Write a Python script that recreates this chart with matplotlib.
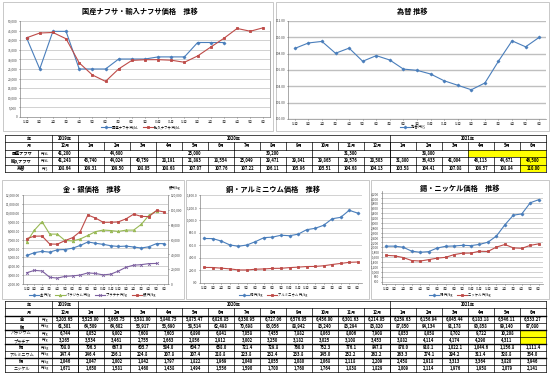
import numpy as np
import matplotlib
matplotlib.use('Agg')
import matplotlib.pyplot as plt
from matplotlib.patches import Rectangle
from matplotlib.ticker import FuncFormatter, MultipleLocator

plt.rcParams['font.family'] = ['Noto Sans CJK JP', 'DejaVu Sans']

nan = np.nan
months = ['12月', '1月', '2月', '3月', '4月', '5月', '6月', '7月', '8月', '9月', '10月', '11月',
          '12月', '1月', '2月', '3月', '4月', '5月', '6月']
years = ['2019年', '2020年', '2021年']
year_spans = [1, 12, 6]

# naphtha (yen/kL) and exchange rate (yen/$)
naphtha_dom = [41200, 25000, 44600, 44600, 25000, 25000, 25000, 30200, 30200, 30200,
               31300, 31300, 31300, 38800, 38800, 38800, nan, nan, nan]
naphtha_dom_table = [41200, 44600, 25000, 30200, 31300, 38800, nan]
naphtha_dom_spans = [1, 3, 3, 3, 3, 3, 3]
naphtha_imp = [41248, 43740, 44024, 40759, 28191, 21893, 18554, 25049, 29471, 29841,
               29865, 29576, 28503, 31800, 36433, 41004, 46113, 44671, 46500]
fx = [108.64, 109.31, 109.50, 108.05, 108.68, 107.07, 107.76, 107.22, 106.11, 105.96,
      105.51, 104.68, 104.13, 103.58, 104.41, 107.08, 109.57, 108.84, 110.00]

# metals
gold = [5203.65, 5525.00, 5665.75, 5581.00, 5840.75, 5875.47, 6026.85, 6330.95, 6727.06, 6576.05,
        6456.00, 6301.63, 6214.05, 6259.63, 6156.94, 6045.44, 6183.18, 6546.11, 6533.27]
silver = [61301, 64509, 64602, 53917, 53690, 58514, 62498, 70698, 93056, 88942,
          83240, 83294, 83820, 87850, 94134, 91178, 90858, 99140, 97080]
palladium = [6744, 8052, 9002, 7608, 7603, 6890, 6841, 7058, 7455, 7882,
             8063, 8006, 7908, 8053, 8058, 8702, 9722, 10208, nan]
platinum = [3265, 3534, 3461, 2755, 2663, 2856, 2912, 3002, 3250, 3182,
            3025, 3108, 3453, 3882, 4114, 4174, 4290, 4311, nan]
copper = [708.0, 706.3, 667.0, 605.7, 584.0, 604.7, 658.0, 721.4, 729.8, 760.0,
          752.3, 776.1, 847.8, 870.0, 918.1, 1022.1, 1044.6, 1156.8, 1111.4]
aluminium = [247.4, 246.4, 236.1, 224.8, 207.8, 207.4, 218.8, 223.8, 232.4, 233.8,
             245.0, 252.2, 262.2, 263.3, 274.1, 294.2, 311.4, 328.8, 334.0]
tin = [2046, 2047, 2002, 1842, 1797, 1822, 1969, 2040, 2055, 2080,
       2068, 2118, 2209, 2458, 2918, 3313, 3364, 3820, 3946]
nickel = [1671, 1650, 1581, 1460, 1438, 1494, 1556, 1590, 1700, 1760,
          1764, 1838, 1829, 2009, 2114, 1976, 1958, 2079, 2141]

BLUE, RED, GREEN, PURPLE = '#4A7EBB', '#BE4B48', '#98B954', '#7D60A0'
YELLOW = '#FFFF00'

W, H = 551, 382
fig = plt.figure(figsize=(W / 100, H / 100), dpi=100)
ov = fig.add_axes([0, 0, 1, 1])
ov.set_xlim(0, W)
ov.set_ylim(H, 0)
ov.axis('off')


def px(x0, y0, x1, y1):
    return [x0 / W, 1 - y1 / H, (x1 - x0) / W, (y1 - y0) / H]


# chart frames
for (x0, y0, x1, y1) in [(3, 2, 273, 131), (276, 2, 549, 131),
                         (2, 180, 184, 299), (186, 180, 369, 299), (371, 180, 549, 299)]:
    ov.add_patch(Rectangle((x0, y0), x1 - x0, y1 - y0, fill=False, ec='#BFBFBF', lw=0.6))

x = np.arange(len(months))


def style(ax, lo, hi, step, fmt, grid_lw=0.5):
    ax.set_facecolor('none')
    ax.set_xlim(-0.5, 18.5)
    ax.set_ylim(lo, hi)
    ax.yaxis.set_major_locator(MultipleLocator(step))
    ax.yaxis.set_major_formatter(FuncFormatter(lambda v, p: fmt(v)))
    ax.set_xticks(x)
    ax.set_xticklabels(months)
    ax.tick_params(labelsize=2.3, length=1, width=0.4, pad=1, colors='#404040')
    ax.grid(axis='y', color='#BFBFBF', lw=grid_lw)
    ax.set_axisbelow(True)
    for s in ['top', 'right']:
        ax.spines[s].set_visible(False)
    for s in ['left', 'bottom']:
        ax.spines[s].set_color('#868686')
        ax.spines[s].set_linewidth(0.5)


def line(ax, y, color, marker, label, ms=1.8):
    return ax.plot(x, y, color=color, lw=0.8, marker=marker, ms=ms, mec=color, mfc=color,
                   mew=0.6, label=label)[0]


def legend(ax, handles, cx, cy):
    ax.legend(handles=handles, loc='center', bbox_to_anchor=(cx / W, 1 - cy / H),
              bbox_transform=fig.transFigure, ncol=len(handles), fontsize=2.4, frameon=False,
              handlelength=3, columnspacing=1.5, handletextpad=0.3, borderpad=0)


def title(cx, cy, text):
    ov.text(cx, cy, text, ha='center', va='center', fontsize=5.2, fontweight='bold')


# chart 1: naphtha
ax1 = fig.add_axes(px(20, 21, 270, 117))
style(ax1, 0, 50000, 5000, lambda v: f'{v:,.0f}')
ax1.spines['right'].set_visible(True)
ax1.spines['right'].set_color('#868686')
ax1.spines['right'].set_linewidth(0.5)
h1 = line(ax1, naphtha_dom, BLUE, 'D', '国産ナフサ 円/kL', ms=1.5)
h2 = line(ax1, naphtha_imp, RED, 's', '輸入ナフサ 円/kL')
legend(ax1, [h1, h2], 140, 127)
title(140, 11, '国産ナフサ・輸入ナフサ価格　推移')

# chart 2: exchange rate
ax2 = fig.add_axes(px(288, 21, 546, 119))
style(ax2, 100, 112, 2, lambda v: f'{v:.2f}', grid_lw=1.0)
h = line(ax2, fx, BLUE, 'D', '為替 円/$', ms=1.5)
legend(ax2, [h], 412, 127)
title(412, 11, '為替 推移')

# chart 3: gold / silver
ax3 = fig.add_axes(px(23, 195, 168, 284))
style(ax3, 2000, 12000, 1000, lambda v: f'{v:,.2f}')
ax3r = ax3.twinx()
ax3r.set_ylim(0, 120000)
ax3r.yaxis.set_major_locator(MultipleLocator(20000))
ax3r.yaxis.set_major_formatter(FuncFormatter(lambda v, p: f'{v:,.0f}'))
ax3r.tick_params(labelsize=2.3, length=1, width=0.4, pad=1, colors='#404040')
for s in ['top', 'left', 'bottom']:
    ax3r.spines[s].set_visible(False)
ax3r.spines['right'].set_color('#868686')
ax3r.spines['right'].set_linewidth(0.5)
g1 = line(ax3, gold, BLUE, 'D', '金 円/g', ms=1.5)
g2 = line(ax3, palladium, GREEN, '^', 'パラジウム 円/g')
g3 = line(ax3, platinum, PURPLE, 'x', 'プラチナ 円/g', ms=2.0)
g4 = line(ax3r, silver, RED, 's', '銀 円/kg')
legend(ax3, [g1, g2, g3, g4], 92, 295)
ov.text(175, 188.5, '銀円/kg', ha='center', va='center', fontsize=2.4)
title(92, 189, '金・銀価格　推移')

# chart 4: copper / aluminium
ax4 = fig.add_axes(px(200, 195, 362, 283))
style(ax4, 0, 1400, 200, lambda v: f'{v:,.1f}')
c1 = line(ax4, copper, BLUE, 'D', '銅 円/kg', ms=1.5)
c2 = line(ax4, aluminium, RED, 's', 'アルミニウム 円/kg')
legend(ax4, [c1, c2], 273, 295)
title(273, 189, '銅・アルミニウム価格　推移')

# chart 5: tin / nickel
ax5 = fig.add_axes(px(382, 191, 543, 284))
style(ax5, 500, 4300, 200, lambda v: f'{v:,.0f}')
n1 = line(ax5, tin, BLUE, 'D', '錫 円/kg', ms=1.5)
n2 = line(ax5, nickel, RED, 's', 'ニッケル 円/kg')
legend(ax5, [n1, n2], 460, 295)
title(460, 188, '錫・ニッケル価格　推移')

# ---------- tables ----------
X0, XU, XD, CW = 5, 38, 52, 26.0
XE = XD + CW * len(months)
FS = 3.0


def col_x(i):
    return XD + CW * i


def hline(y, lw=0.5):
    ov.plot([X0, XE], [y, y], color='black', lw=lw)


def vline(xv, y0, y1, lw=0.5):
    ov.plot([xv, xv], [y0, y1], color='black', lw=lw)


def txt(xc, yc, s, bold=True, fs=FS):
    ov.text(xc, yc, s, ha='center', va='center', fontsize=fs,
            fontweight='bold' if bold else 'normal')


def header(ys):
    # year row
    txt((X0 + XD) / 2, (ys[0] + ys[1]) / 2, '年')
    start = 0
    for yname, span in zip(years, year_spans):
        txt(col_x(start) + CW * span / 2, (ys[0] + ys[1]) / 2, yname)
        start += span
    # month row
    txt((X0 + XD) / 2, (ys[1] + ys[2]) / 2, '月')
    for i, m in enumerate(months):
        txt(col_x(i) + CW / 2, (ys[1] + ys[2]) / 2, m)
    for y in ys:
        hline(y)
    for xv in [X0, XD, XE, col_x(1), col_x(13)]:
        vline(xv, ys[0], ys[-1])
    vline(XU, ys[2], ys[-1])


def data_row(ys, r, label, unit, vals, fmt, label_bold=True):
    y0, y1 = ys[r], ys[r + 1]
    yc = (y0 + y1) / 2
    txt((X0 + XU) / 2, yc, label, bold=label_bold)
    txt((XU + XD) / 2, yc, unit, bold=False, fs=2.4)
    for i, v in enumerate(vals):
        if np.isnan(v):
            ov.add_patch(Rectangle((col_x(i), y0), CW, y1 - y0, color=YELLOW, lw=0, zorder=0))
        else:
            txt(col_x(i) + CW / 2, yc, fmt(v))
        if i > 0:
            vline(col_x(i), y0, y1)


# top table
ty = [134.5, 142, 149.5, 157, 164.5, 172]
header(ty)
for i in range(1, 19):
    vline(col_x(i), ty[1], ty[2])
start = 0
for v, span in zip(naphtha_dom_table, naphtha_dom_spans):
    if np.isnan(v):
        ov.add_patch(Rectangle((col_x(start), ty[2]), CW * span, ty[3] - ty[2],
                               color=YELLOW, lw=0, zorder=0))
    else:
        txt(col_x(start) + CW * span / 2, (ty[2] + ty[3]) / 2, f'{v:,.0f}')
    if start > 0:
        vline(col_x(start), ty[2], ty[3])
    start += span
txt((X0 + XU) / 2, (ty[2] + ty[3]) / 2, '国産ナフサ')
txt((XU + XD) / 2, (ty[2] + ty[3]) / 2, '円/kL', bold=False, fs=2.4)
fx_table = fx[:-1] + [nan]
data_row(ty, 3, '輸入ナフサ', '円/kL', naphtha_imp[:-1] + [nan], lambda v: f'{v:,.0f}')
ov.add_patch(Rectangle((col_x(18), ty[3]), CW, ty[4] - ty[3], color=YELLOW, lw=0, zorder=0))
txt(col_x(18) + CW / 2, (ty[3] + ty[4]) / 2, f'{naphtha_imp[-1]:,.0f}')
data_row(ty, 4, '為替', '円/$', fx_table, lambda v: f'{v:.2f}')
ov.add_patch(Rectangle((col_x(18), ty[4]), CW, ty[5] - ty[4], color=YELLOW, lw=0, zorder=0))
txt(col_x(18) + CW / 2, (ty[4] + ty[5]) / 2, f'{fx[-1]:.2f}')

# bottom table
by = [301, 308, 316, 323, 330, 337, 344, 351, 358, 365, 372]
header(by)
for i in range(1, 19):
    vline(col_x(i), by[1], by[2])
rows = [
    ('金', '円/g', gold, lambda v: f'{v:,.2f}', True),
    ('銀', '円/kg', silver, lambda v: f'{v:,.0f}', True),
    ('パラジウム', '円/g', palladium, lambda v: f'{v:,.0f}', False),
    ('プラチナ', '円/g', platinum, lambda v: f'{v:,.0f}', False),
    ('銅', '円/kg', copper, lambda v: f'{v:,.1f}', True),
    ('アルミニウム', '円/kg', aluminium, lambda v: f'{v:,.1f}', False),
    ('錫', '円/kg', tin, lambda v: f'{v:,.0f}', True),
    ('ニッケル', '円/kg', nickel, lambda v: f'{v:,.0f}', False),
]
for r, (lab, unit, vals, fmt, bold) in enumerate(rows):
    data_row(by, r + 2, lab, unit, vals, fmt, label_bold=bold)
for k in [2, 4, 6, 8]:
    hline(by[k], lw=1.0)

fig.savefig('out.png', dpi=100)
